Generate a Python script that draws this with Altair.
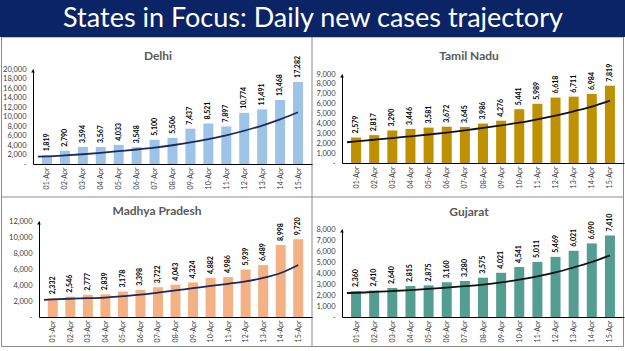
import json
import altair as alt
import pandas as pd

# ---------------- data ----------------
dates = ["01-Apr", "02-Apr", "03-Apr", "04-Apr", "05-Apr", "06-Apr", "07-Apr", "08-Apr",
         "09-Apr", "10-Apr", "11-Apr", "12-Apr", "13-Apr", "14-Apr", "15-Apr"]
days = list(range(1, 16))

delhi = [1819, 2790, 3594, 3567, 4033, 3548, 5100, 5506, 7437, 8521, 7897, 10774, 11491, 13468, 17282]
tamil_nadu = [2579, 2817, 3290, 3446, 3581, 3672, 3645, 3986, 4276, 5441, 5989, 6618, 6711, 6984, 7819]
madhya_pradesh = [2332, 2546, 2777, 2839, 3178, 3398, 3722, 4043, 4324, 4882, 4986, 5939, 6489, 8998, 9720]
gujarat = [2360, 2410, 2640, 2815, 2875, 3160, 3280, 3575, 4021, 4541, 5011, 5469, 6021, 6690, 7410]

# trend line (first point sits on the y axis)
trend_days = [0.5] + days
delhi_trend = [1550, 1600, 1800, 2050, 2350, 2700, 3050, 3450, 3950, 4550, 5250, 6050, 7000, 8100, 9400, 10900]
tamil_nadu_trend = [2100, 2180, 2350, 2520, 2700, 2880, 3080, 3300, 3550, 3800, 4080, 4420, 4800, 5230, 5700, 6300]
madhya_pradesh_trend = [2150, 2200, 2280, 2350, 2420, 2600, 2790, 3050, 3330, 3600, 3880, 4150, 4460, 4880, 5500, 6500]
gujarat_trend = [2180, 2200, 2280, 2360, 2450, 2550, 2670, 2800, 2950, 3150, 3400, 3700, 4050, 4500, 5000, 5600]

title_text = "States in Focus: Daily new cases trajectory"

W, H = 625, 351
FONT = "Lato"
one = pd.DataFrame({"k": [0]})


def panel(name, values, trend, ymax, ystep, bar_color, line_color, plot, title_pos):
    px0, py0, px1, py1 = plot
    df = pd.DataFrame({"day": days, "date": dates, "value": values,
                       "label": [f"{v:,}" for v in values]})
    tdf = pd.DataFrame({"day": trend_days, "trend": trend})

    xscale = alt.Scale(domain=[0.5, 15.5], range=[px0, px1], nice=False, zero=False)
    yscale = alt.Scale(domain=[0, ymax], range=[py1, py0], nice=False, zero=False)
    xaxis = alt.Axis(orient="bottom", offset=-(H - py1), values=days,
                     labelExpr=json.dumps(dates) + "[datum.value - 1]",
                     labelAngle=-90, ticks=False, grid=False, domainColor="black",
                     labelFontSize=7, labelColor="#404040", labelPadding=3, labelFont=FONT,
                     title=None, labelOverlap=False, labelFlush=False, labelBound=False,
                     zindex=1)
    yaxis = alt.Axis(orient="left", offset=-px0, values=list(range(0, ymax + 1, ystep)),
                     labelExpr="datum.value == 0 ? '-' : format(datum.value, ',')",
                     ticks=False, grid=False, domainColor="black", labelFontSize=7.5,
                     labelColor="#404040", labelPadding=7, labelFont=FONT, title=None,
                     labelOverlap=False, labelFlush=False, labelBound=False, zindex=1)
    X = lambda f: alt.X(f, scale=xscale, axis=xaxis)
    Y = lambda f: alt.Y(f, scale=yscale, axis=yaxis)

    bars = alt.Chart(df).mark_bar(size=10, color=bar_color).encode(
        x=X("day:Q"), y=Y("value:Q"))
    labels = alt.Chart(df).mark_text(angle=270, align="left", baseline="middle", dx=4,
                                     fontSize=7, fontWeight="bold", font=FONT,
                                     color="black").encode(
        x=X("day:Q"), y=Y("value:Q"), text="label:N")
    line = alt.Chart(tdf).mark_line(color=line_color, strokeWidth=1.8,
                                    interpolate="monotone").encode(
        x=X("day:Q"), y=Y("trend:Q"))
    arrow = alt.Chart(one).mark_point(shape="triangle-up", filled=True, size=14,
                                      color="black", opacity=1).encode(
        x=alt.value(px0), y=alt.value(py0 + 2))
    ttl = alt.Chart(one).mark_text(text=name, fontSize=12, fontWeight="bold",
                                   color="#595959", font=FONT).encode(
        x=alt.value(title_pos[0]), y=alt.value(title_pos[1]))
    return alt.layer(bars, line, labels), arrow, ttl


tl, tl_a, tl_t = panel("Delhi", delhi, delhi_trend, 20000, 2000, "#9dc3e6", "#1f2a5c",
                       (33, 69, 312, 164), (158, 56))
tr, tr_a, tr_t = panel("Tamil Nadu", tamil_nadu, tamil_nadu_trend, 9000, 1000, "#bf9000", "#111111",
                       (342, 74, 624, 163), (469, 56))
bl, bl_a, bl_t = panel("Madhya Pradesh", madhya_pradesh, madhya_pradesh_trend, 12000, 2000,
                       "#f4b183", "#1f2a5c", (39, 221, 312, 317), (157, 211))
br, br_a, br_t = panel("Gujarat", gujarat, gujarat_trend, 8000, 1000, "#539e91", "#111111",
                       (342, 229, 624, 317), (469, 212))

banner_bg = alt.Chart(one).mark_rect(color="#0b2466").encode(
    x=alt.value(0), x2=alt.value(W), y=alt.value(0), y2=alt.value(37))
banner_txt = alt.Chart(one).mark_text(text=title_text, fontSize=27, color="white", font=FONT,
                                      baseline="middle").encode(
    x=alt.value(313), y=alt.value(19))
frame = alt.Chart(one).mark_rect(fill="transparent", stroke="#8c8c8c", strokeWidth=1).encode(
    x=alt.value(1.5), x2=alt.value(623.5), y=alt.value(37), y2=alt.value(346.5))
vdiv = alt.Chart(one).mark_rule(color="#8c8c8c", strokeWidth=1).encode(
    x=alt.value(312), y=alt.value(37), y2=alt.value(346.5))
hdiv = alt.Chart(one).mark_rule(color="#8c8c8c", strokeWidth=1).encode(
    x=alt.value(1.5), x2=alt.value(623.5), y=alt.value(197))

chart = alt.layer(
    frame, vdiv, hdiv,
    tl, tr, bl, br,
    tl_a, tr_a, bl_a, br_a,
    tl_t, tr_t, bl_t, br_t,
    banner_bg, banner_txt,
).resolve_scale(x="independent", y="independent").properties(
    width=W, height=H,
    autosize=alt.AutoSizeParams(type="none"),
    padding={"left": 0, "top": 0, "right": 0, "bottom": 0},
).configure_view(strokeWidth=0).configure_axis(labelOverlap=False)

chart.save("out.html", embed_options={"renderer": "svg", "actions": False})
